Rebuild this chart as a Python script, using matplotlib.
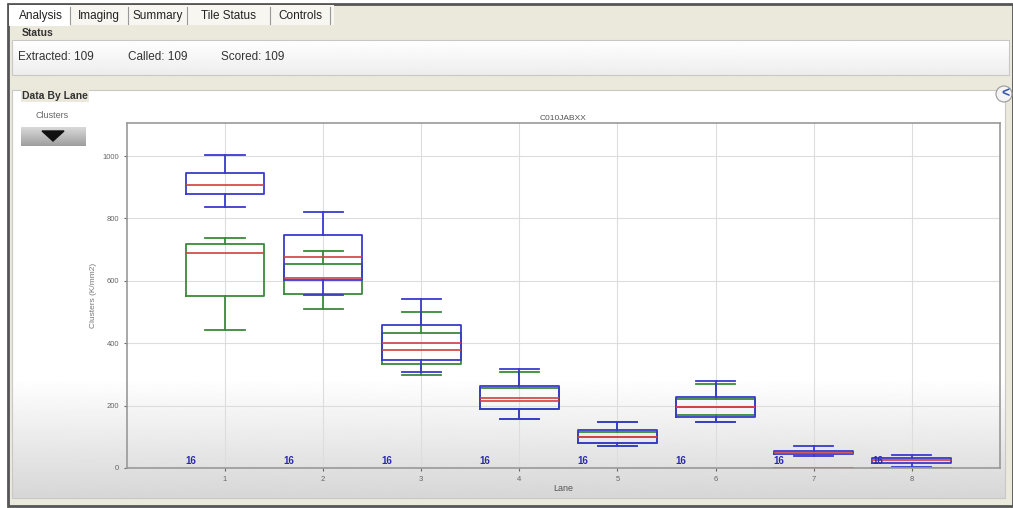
import numpy as np
import matplotlib
matplotlib.use("Agg")
import matplotlib.pyplot as plt
from matplotlib.patches import Rectangle, Polygon, Circle

plt.rcParams['font.family'] = ['Liberation Sans', 'DejaVu Sans']

# datos
lanes = [1, 2, 3, 4, 5, 6, 7, 8]
counts = ["16", "16", "16", "16", "16", "16", "16", "16"]

blue_lo = [837, 554, 308, 157, 71, 147, 38, 4]
blue_q1 = [878, 603, 346, 189, 80, 164, 45, 16]
blue_med = [907, 676, 400, 224, 99, 196, 48, 26]
blue_q3 = [945, 747, 458, 263, 122, 228, 55, 32]
blue_hi = [1003, 820, 542, 317, 147, 279, 69, 42]

green_lo = [442, 510, 298, 157, 71, 147, 0, 0]
green_q1 = [551, 558, 333, 189, 80, 170, 0, 0]
green_med = [689, 609, 378, 215, 99, 196, 0, 0]
green_q3 = [718, 654, 433, 256, 115, 222, 0, 0]
green_hi = [737, 695, 500, 308, 147, 269, 0, 0]

yticks = [0, 200, 400, 600, 800, 1000]
tabs = ["Analysis", "Imaging", "Summary", "Tile Status", "Controls"]
tab_x = [12, 70, 128, 187, 270, 330]
status = ["Extracted: 109", "Called: 109", "Scored: 109"]
status_x = [18, 128, 221]

W, H = 1013, 508
fig = plt.figure(figsize=(W / 100, H / 100), dpi=100)

# fondo de la interfaz (coordenadas en pixeles)
bg = fig.add_axes([0, 0, 1, 1])
bg.set_xlim(0, W)
bg.set_ylim(H, 0)
bg.axis("off")
bg.add_patch(Rectangle((0, 0), W, H, color="white", zorder=0))
bg.add_patch(Rectangle((8, 4), W - 8, H - 6, facecolor="#ebe8dc", edgecolor="#555555", lw=2, zorder=1))

# pestañas
bg.add_patch(Rectangle((9, 5), 325, 20, facecolor="#f7f6f0", edgecolor="none", zorder=2))
bg.add_patch(Rectangle((9, 5), 61, 21, facecolor="white", edgecolor="none", zorder=2))
for i in range(len(tabs)):
    bg.text((tab_x[i] + tab_x[i + 1]) / 2, 16, tabs[i], ha="center", va="center",
            fontsize=8.5, color="#222222", zorder=3)
    bg.plot([tab_x[i + 1], tab_x[i + 1]], [7, 24], color="#999999", lw=0.8, zorder=3)

# caja de estado
grad = np.linspace(1, 0.93, 50).reshape(-1, 1)
bg.imshow(grad, extent=(12, 1009, 75, 40), cmap="gray", vmin=0, vmax=1, aspect="auto", zorder=2)
bg.add_patch(Rectangle((12, 40), 997, 35, fill=False, edgecolor="#c8c8c8", lw=0.8, zorder=3))
bg.text(22, 33, "Status", fontsize=7.5, fontweight="bold", color="#333333", va="center", zorder=4,
        bbox=dict(facecolor="#ebe8dc", edgecolor="none", pad=1))
for i in range(len(status)):
    bg.text(status_x[i], 57, status[i], fontsize=8.5, color="#333333", va="center", zorder=4)

# panel datos por carril
col = np.concatenate([np.ones(290), np.linspace(1, 0.84, 120)]).reshape(-1, 1)
bg.imshow(col, extent=(12, 1005, 498, 90), cmap="gray", vmin=0, vmax=1, aspect="auto", zorder=2)
bg.add_patch(Rectangle((12, 90), 993, 408, fill=False, edgecolor="#c8c8c8", lw=0.8, zorder=3))
bg.text(22, 96, "Data By Lane", fontsize=7.5, fontweight="bold", color="#333333", va="center", zorder=4,
        bbox=dict(facecolor="#ebe8dc", edgecolor="none", pad=1))
bg.text(52, 115, "Clusters", fontsize=6.5, color="#666666", ha="center", va="center", zorder=4)
btn = np.linspace(0.85, 0.62, 30).reshape(-1, 1)
bg.imshow(btn, extent=(21, 86, 146, 127), cmap="gray", vmin=0, vmax=1, aspect="auto", zorder=4)
bg.add_patch(Polygon([[42, 131], [64, 131], [53, 141]], color="#111111", zorder=5))
bg.add_patch(Circle((1004, 94), 8, facecolor="#f4f4f4", edgecolor="#999999", lw=0.8, zorder=4))
bg.text(1005, 94, "<", fontsize=10, fontweight="bold", color="#3355aa", ha="center", va="center", zorder=5)

# grafico de cajas
ax = fig.add_axes([127 / W, 1 - 468 / H, 873 / W, 345 / H])
ax.set_facecolor("none")

def stats(lo, q1, med, q3, hi):
    return [dict(whislo=lo[i], q1=q1[i], med=med[i], q3=q3[i], whishi=hi[i], fliers=[])
            for i in range(len(lanes))]

for s, c in [(stats(green_lo, green_q1, green_med, green_q3, green_hi), "#3a8a3a"),
             (stats(blue_lo, blue_q1, blue_med, blue_q3, blue_hi), "#3a3acc")]:
    ax.bxp(s, positions=lanes, widths=0.8, showfliers=False,
           boxprops=dict(color=c, lw=1.3),
           whiskerprops=dict(color=c, lw=1.3),
           capprops=dict(color=c, lw=1.3),
           medianprops=dict(color="#d04040", lw=1.2),
           capwidths=0.4, manage_ticks=False)

for i in range(len(lanes)):
    ax.text(lanes[i] - 0.35, 6, counts[i], color="#2a2aaa", fontsize=7, fontweight="bold",
            ha="center", va="bottom")

ax.set_xlim(0, 8.9)
ax.set_ylim(0, 1106)
ax.set_xticks(lanes)
ax.set_yticks(yticks)
ax.tick_params(labelsize=5.5, colors="#666666", length=2)
ax.grid(color="#dddddd", lw=0.8)
ax.set_axisbelow(True)
for sp in ax.spines.values():
    sp.set_color("#999999")
    sp.set_linewidth(1.2)
ax.set_title("C010JABXX", fontsize=6, color="#555555", pad=2)
ax.set_ylabel("Clusters (K/mm2)", fontsize=6, color="#777777", labelpad=4)
ax.set_xlabel("Lane", fontsize=6.5, color="#555555", labelpad=1)

fig.savefig("out.png", dpi=100)
